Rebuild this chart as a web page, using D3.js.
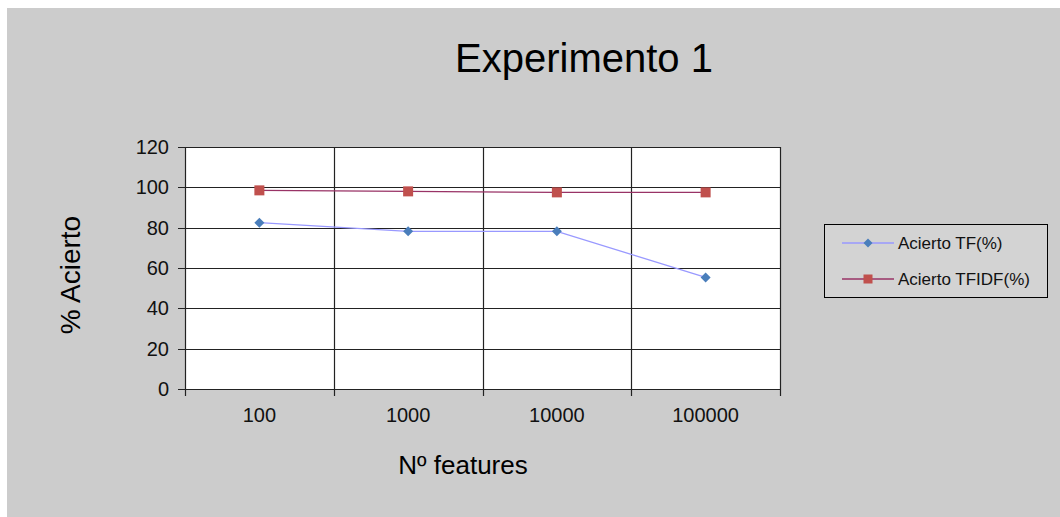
<!DOCTYPE html>
<html><head><meta charset="utf-8">
<script src="https://cdn.jsdelivr.net/npm/d3@7"></script>
<style>html,body{margin:0;padding:0;background:#fff;}svg{display:block;}</style>
</head><body>
<script>
const categories = ["100", "1000", "10000", "100000"];
const tfValues = [82.5, 78.2, 78.2, 55.3];
const tfidfValues = [98.5, 98.0, 97.5, 97.5];
const yTicks = [0, 20, 40, 60, 80, 100, 120];
const seriesNames = ["Acierto TF(%)", "Acierto TFIDF(%)"];

const W = 1060, H = 517;
const font = "'Liberation Sans', Arial, sans-serif";
const svg = d3.select("body").append("svg").attr("width", W).attr("height", H);
svg.append("rect").attr("x", 0).attr("y", 0).attr("width", W).attr("height", H).attr("fill", "#fff");
svg.append("rect").attr("x", 7).attr("y", 8).attr("width", W - 7).attr("height", H - 8).attr("fill", "#cccccc");

const L = 185, R = 780, T = 147, B = 389;
const x = d3.scaleBand().domain(categories).range([L, R]);
const y = d3.scaleLinear().domain([0, 120]).range([B, T]);

svg.append("rect").attr("x", L).attr("y", T).attr("width", R - L).attr("height", B - T).attr("fill", "#fff");

const g = svg.append("g");
g.selectAll("line.h").data(yTicks).join("line")
  .attr("x1", L - 7).attr("x2", R)
  .attr("y1", d => Math.round(y(d)) + 0.5).attr("y2", d => Math.round(y(d)) + 0.5)
  .attr("stroke", "#222").attr("stroke-width", 1.2);
const bounds = categories.map(c => x(c)).concat([R]);
g.selectAll("line.v").data(bounds).join("line")
  .attr("x1", d => Math.round(d) + 0.5).attr("x2", d => Math.round(d) + 0.5)
  .attr("y1", T).attr("y2", B + 7)
  .attr("stroke", "#222").attr("stroke-width", 1.2);

g.selectAll("text.yt").data(yTicks).join("text")
  .attr("x", 169).attr("y", d => y(d) + 7)
  .attr("text-anchor", "end").attr("font-family", font).attr("font-size", 20).attr("fill", "#111")
  .text(d => d);
g.selectAll("text.xt").data(categories).join("text")
  .attr("x", d => x(d) + x.bandwidth() / 2).attr("y", 422)
  .attr("text-anchor", "middle").attr("font-family", font).attr("font-size", 20).attr("fill", "#111")
  .text(d => d);

const cx = d => x(d) + x.bandwidth() / 2;
const lineGen = d3.line().x((d, i) => cx(categories[i])).y(d => y(d));

const tfLine = "#9999ff", tfMark = "#4a7ebb";
const idfLine = "#993366", idfMark = "#c0504d";

svg.append("path").datum(tfValues).attr("d", lineGen).attr("fill", "none").attr("stroke", tfLine).attr("stroke-width", 1.3);
svg.append("path").datum(tfidfValues).attr("d", lineGen).attr("fill", "none").attr("stroke", idfLine).attr("stroke-width", 1.3);

const diamond = (px, py, r) => `M${px},${py - r}L${px + r},${py}L${px},${py + r}L${px - r},${py}Z`;
svg.selectAll("path.tfm").data(tfValues).join("path")
  .attr("d", (d, i) => diamond(cx(categories[i]), y(d), 5)).attr("fill", tfMark);
svg.selectAll("rect.idfm").data(tfidfValues).join("rect")
  .attr("x", (d, i) => cx(categories[i]) - 5).attr("y", d => y(d) - 5)
  .attr("width", 10).attr("height", 10).attr("fill", idfMark);

svg.append("text").attr("x", 584).attr("y", 72).attr("text-anchor", "middle")
  .attr("font-family", font).attr("font-size", 40).attr("fill", "#000").text("Experimento 1");
svg.append("text").attr("x", 463).attr("y", 474).attr("text-anchor", "middle")
  .attr("font-family", font).attr("font-size", 26).attr("fill", "#000").text("Nº features");
svg.append("text").attr("transform", "translate(80,275) rotate(-90)").attr("text-anchor", "middle")
  .attr("font-family", font).attr("font-size", 28).attr("fill", "#000").text("% Acierto");

const lg = svg.append("g");
lg.append("rect").attr("x", 824.5).attr("y", 224.5).attr("width", 223).attr("height", 73)
  .attr("fill", "#d3d3d3").attr("stroke", "#000").attr("stroke-width", 1);
const legY = [243, 279];
lg.append("line").attr("x1", 842).attr("x2", 894).attr("y1", legY[0]).attr("y2", legY[0]).attr("stroke", tfLine).attr("stroke-width", 1.3);
lg.append("path").attr("d", diamond(868, legY[0], 4.5)).attr("fill", tfMark);
lg.append("line").attr("x1", 842).attr("x2", 894).attr("y1", legY[1]).attr("y2", legY[1]).attr("stroke", idfLine).attr("stroke-width", 1.3);
lg.append("rect").attr("x", 863.5).attr("y", legY[1] - 4.5).attr("width", 9).attr("height", 9).attr("fill", idfMark);
lg.selectAll("text").data(seriesNames).join("text")
  .attr("x", 898).attr("y", (d, i) => legY[i] + 6)
  .attr("font-family", font).attr("font-size", 17).attr("fill", "#111").text(d => d);
</script>
</body></html>
